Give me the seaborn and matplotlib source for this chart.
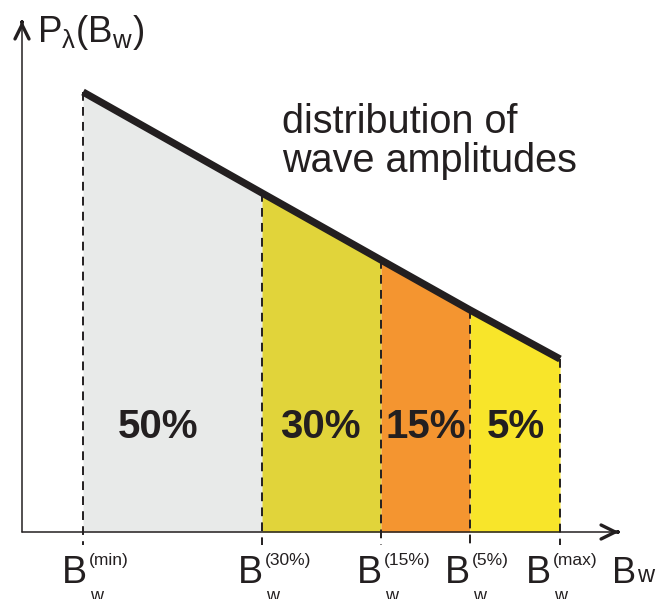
import matplotlib
matplotlib.use("Agg")
import matplotlib.pyplot as plt
import pandas as pd
import seaborn as sns

# amplitude class boundaries (B_w) and the distribution value at each one
edges_b = [61, 240, 359, 448, 538]
edges_p = [440, 339, 272, 222, 173]
shares = ["50%", "30%", "15%", "5%"]
fill_colors = ["#E8EAE9", "#E1D43A", "#F49530", "#F8E52A"]
tick_sups = ["(min)", "(30%)", "(15%)", "(5%)", "(max)"]

INK = "#231F20"

sns.set_theme(style="white")
plt.rcParams["font.family"] = ["Liberation Sans", "DejaVu Sans"]
plt.rcParams["mathtext.fontset"] = "custom"
plt.rcParams["mathtext.rm"] = "Liberation Sans"
plt.rcParams["mathtext.it"] = "Liberation Sans"

fig = plt.figure(figsize=(6.66, 5.99), dpi=100)
ax = fig.add_axes([0, 0, 1, 1])
ax.set_xlim(-22, 644)
ax.set_ylim(-67, 532)
ax.axis("off")

# coloured classes under the curve
for i in range(len(shares)):
    ax.fill_between(
        edges_b[i:i + 2], edges_p[i:i + 2], 0,
        color=fill_colors[i], lw=0, zorder=1,
    )

# dashed boundaries
for b, p in zip(edges_b, edges_p):
    ax.plot([b, b], [p, -13], color=INK, lw=1.4,
            linestyle=(0, (4.5, 3.2)), zorder=2)

# axes with arrow heads
ax.plot([0, 0], [0, 508], color=INK, lw=1.1, zorder=3)
ax.plot([0, 594], [0, 0], color=INK, lw=1.1, zorder=3)
head = "->, head_length=0.85, head_width=0.42"
ax.annotate("", xy=(0, 511), xytext=(0, 507),
            arrowprops=dict(arrowstyle=head, lw=2.4, color=INK))
ax.annotate("", xy=(597, 0), xytext=(593, 0),
            arrowprops=dict(arrowstyle=head, lw=2.4, color=INK))

# distribution line
df = pd.DataFrame({"B": edges_b, "P": edges_p})
sns.lineplot(data=df, x="B", y="P", ax=ax, color=INK, lw=5.2, zorder=4)
ax.lines[-1].set_solid_capstyle("butt")

# class shares
share_x = [136, 298, 404, 494]
for x, s in zip(share_x, shares):
    ax.text(x, 94, s, ha="center", va="baseline", fontsize=29,
            fontweight="bold", color=INK, zorder=5)

# curve annotation
ax.text(260, 399, "distribution of", fontsize=28.5, color=INK,
        ha="left", va="baseline")
ax.text(260, 360, "wave amplitudes", fontsize=28.5, color=INK,
        ha="left", va="baseline")

# tick labels B_w^(...)
b_shift = [4, 1, 1, 0, -9]
for b, sup, dx in zip(edges_b, tick_sups, b_shift):
    ax.text(b + dx, -51, "B", ha="right", va="baseline", fontsize=27,
            color=INK)
    ax.text(b + dx + 2, -33, sup, ha="left", va="baseline", fontsize=12.5,
            color=INK)
    ax.text(b + dx + 3, -69, "w", ha="left", va="baseline", fontsize=13,
            color=INK, clip_on=False)

# axis labels
ax.text(590, -51, "B", ha="left", va="baseline", fontsize=26, color=INK)
ax.text(615, -50, "w", ha="left", va="baseline", fontsize=17, color=INK)
ax.text(15, 490, r"$\mathregular{P_{\lambda}(B_w)}$", ha="left",
        va="baseline", fontsize=26.5, color=INK)

fig.savefig("out.png", dpi=100)
